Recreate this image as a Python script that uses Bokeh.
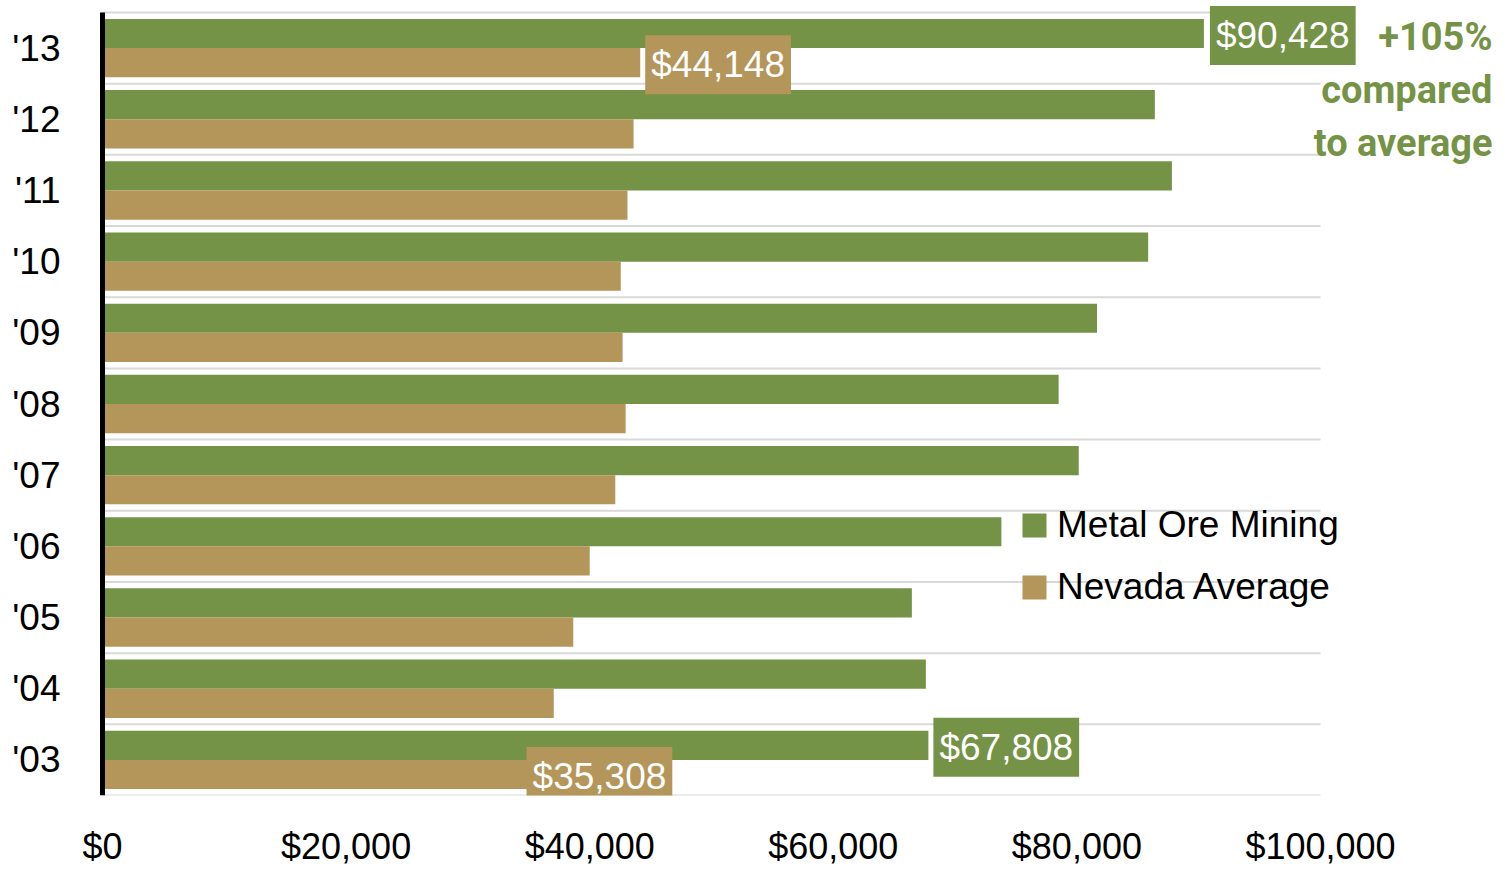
from bokeh.plotting import figure
from bokeh.models import (Range1d, FixedTicker, NumeralTickFormatter, Label,
                          Legend, LegendItem, ColumnDataSource)
from bokeh.embed import file_html
from bokeh.resources import INLINE

# ---- data ----
years = ["'03", "'04", "'05", "'06", "'07", "'08", "'09", "'10", "'11", "'12", "'13"]
metal_ore = [67808, 67600, 66450, 73800, 80150, 78500, 81650, 85850, 87800, 86400, 90428]
nevada_avg = [35308, 37050, 38650, 40000, 42100, 42950, 42700, 42550, 43100, 43600, 44148]
x_ticks = [0, 20000, 40000, 60000, 80000, 100000]
x_max = 100000
callouts = [  # (series, year index, offset px)
    ("metal", 10, 7), ("nevada", 10, 6), ("metal", 0, 6), ("nevada", 0, -5)]
note_lines = ["+105%", "compared", "to average"]

GREEN = "#759346"
TAN = "#b4955a"
FONT = "Liberation Sans"

W, H = 1500, 871
ZERO_PX = 102                # screen x of $0
LEFT = ZERO_PX - 4
BOTTOM = H - 795
PX_X = 1218 / x_max          # px per dollar
PX_Y = 783 / len(years)      # px per category
frame_w = W - LEFT
frame_h = H - BOTTOM

idx = list(range(len(years)))
src = ColumnDataSource(dict(
    y_m=[i + 0.205 for i in idx], y_n=[i - 0.205 for i in idx],
    metal=metal_ore, nevada=nevada_avg))

y_lo = -0.5
y_hi = y_lo + frame_h / PX_Y
x_lo = -(ZERO_PX - LEFT) / PX_X
x_hi = x_lo + frame_w / PX_X

p = figure(width=W, height=H, output_backend="svg", toolbar_location=None,
           x_range=Range1d(x_lo, x_hi), y_range=Range1d(y_lo, y_hi),
           min_border_left=LEFT, min_border_right=0, min_border_top=0,
           min_border_bottom=BOTTOM)
p.outline_line_color = None
p.background_fill_color = "white"
p.border_fill_color = "white"
p.xgrid.grid_line_color = None
p.ygrid.grid_line_color = None

# horizontal separators between year groups
bounds = [i - 0.5 for i in range(len(years) + 1)]
p.segment(x0=[0] * len(bounds), x1=[x_max] * len(bounds), y0=bounds, y1=bounds,
          line_color="#d9d9d9", line_width=2)

r_m = p.hbar(y="y_m", right="metal", left=0, height=0.41, source=src,
             fill_color=GREEN, line_color=None)
r_n = p.hbar(y="y_n", right="nevada", left=0, height=0.41, source=src,
             fill_color=TAN, line_color=None)

# vertical axis line at $0
p.segment(x0=[0], x1=[0], y0=[bounds[0]], y1=[bounds[-1]],
          line_color="black", line_width=5)

# axes
p.xaxis.ticker = FixedTicker(ticks=x_ticks)
p.xaxis.formatter = NumeralTickFormatter(format="$0,0")
p.xaxis.axis_line_color = None
p.xaxis.major_tick_line_color = None
p.xaxis.minor_tick_line_color = None
p.xaxis.major_label_text_font = FONT
p.xaxis.major_label_text_font_size = "36px"
p.xaxis.major_label_text_color = "black"
p.xaxis.major_label_standoff = 24

p.yaxis.ticker = FixedTicker(ticks=idx)
p.yaxis.major_label_overrides = {i: y for i, y in zip(idx, years)}
p.yaxis.axis_line_color = None
p.yaxis.major_tick_line_color = None
p.yaxis.minor_tick_line_color = None
p.yaxis.major_label_text_font = FONT
p.yaxis.major_label_text_font_size = "37px"
p.yaxis.major_label_text_color = "black"
p.yaxis.major_label_standoff = 32

# value callouts
for series, i, off in callouts:
    if series == "metal":
        val, yy, col = metal_ore[i], i + 0.205, GREEN
    else:
        val, yy, col = nevada_avg[i], i - 0.205, TAN
    p.add_layout(Label(x=val, y=yy, x_offset=off - 1, y_offset=-2, text=f"${val:,}",
                       text_font=FONT, text_font_size="37px", text_color="white",
                       text_align="left", text_baseline="middle",
                       background_fill_color=col, padding=(6, 6, 9, 9)))

# annotation
note_x = (1492 - ZERO_PX) / PX_X
for k, txt in enumerate(note_lines):
    p.add_layout(Label(x=note_x, y=10.15 - k * 0.74, text=txt, text_font="Roboto",
                       text_font_style="bold", text_font_size="38px",
                       text_color=GREEN, text_align="right",
                       text_baseline="middle"))

legend = Legend(items=[LegendItem(label="Metal Ore Mining", renderers=[r_m]),
                       LegendItem(label="Nevada Average", renderers=[r_n])],
                location=(921, 187), orientation="vertical",
                glyph_width=30, glyph_height=30, label_standoff=8,
                label_text_font=FONT, label_text_font_size="37px",
                label_text_color="black", spacing=20, padding=0, margin=0,
                border_line_color=None, background_fill_alpha=0)
p.add_layout(legend)

open("out.html", "w").write(file_html(p, INLINE))
